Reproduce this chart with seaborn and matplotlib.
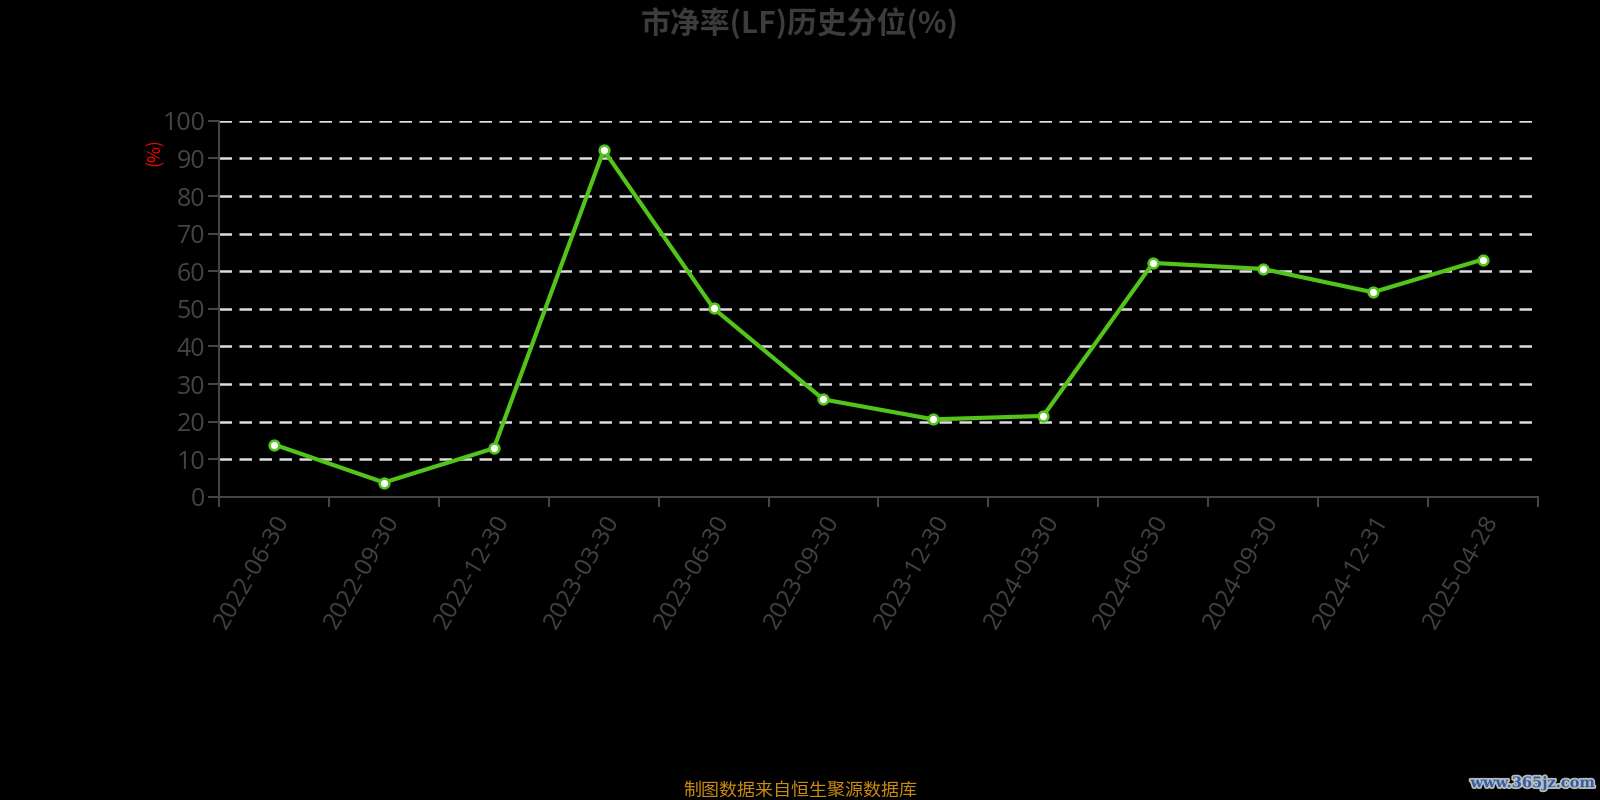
import matplotlib
matplotlib.use('Agg')
import matplotlib.pyplot as plt
import matplotlib.patheffects as pe
import seaborn as sns
import pandas as pd
import numpy as np

# data
dates = ['2022-06-30', '2022-09-30', '2022-12-30', '2023-03-30', '2023-06-30', '2023-09-30',
         '2023-12-30', '2024-03-30', '2024-06-30', '2024-09-30', '2024-12-31', '2025-04-28']
pct = [13.9, 3.8, 12.9, 92.2, 50.1, 25.9, 20.6, 21.5, 62.2, 60.6, 54.4, 63.1]
yticks = list(range(0, 101, 10))

df = pd.DataFrame({'date': dates, 'pct': pct})

sns.set_style('dark')
plt.rcParams['font.family'] = ['Noto Sans CJK SC', 'DejaVu Sans']

fig = plt.figure(figsize=(16, 8), dpi=100, facecolor='black')
ax = fig.add_axes([0.137, 0.379, 0.824, 0.470])
ax.set_facecolor('black')

axis_gray = '#444444'

# grid
for v in yticks[1:]:
    ax.axhline(v, color='#dddddd', lw=1.8, dashes=(5, 3), zorder=1)

x = np.arange(len(dates))
sns.lineplot(x=x, y=df['pct'], ax=ax, color='#52c41a', lw=3, zorder=3,
             marker='o', markersize=7, markerfacecolor='white',
             markeredgecolor='#52c41a', markeredgewidth=1.8)

ax.set_xlim(-0.5, len(dates) - 0.5)
ax.set_ylim(0, 100)
ax.set_yticks(yticks)
ax.set_yticklabels([str(v) for v in yticks], fontsize=18, color=axis_gray, family='Open Sans')
ax.tick_params(axis='y', length=8, width=1.5, color=axis_gray, pad=2, left=True)

ax.set_xticks(x)
ax.set_xticklabels(dates, rotation=60, ha='right', rotation_mode='anchor',
                   fontsize=17.5, color=axis_gray, family='Open Sans')
ax.set_xticks(np.arange(-0.5, len(dates)), minor=True)
ax.tick_params(axis='x', which='major', length=0, pad=10)
ax.tick_params(axis='x', which='minor', length=7, width=1.5, color=axis_gray, bottom=True)

for s in ['top', 'right']:
    ax.spines[s].set_visible(False)
for s in ['left', 'bottom']:
    ax.spines[s].set_visible(True)
    ax.spines[s].set_color(axis_gray)
    ax.spines[s].set_linewidth(1.5)
ax.set_xlabel('')
ax.set_ylabel('')
ax.grid(False)

fig.text(0.0965, 0.81, '(%)', color='red', fontsize=12.5, rotation=90, ha='center', va='center')

fig.text(0.5, 0.971, '市净率(LF)历史分位(%)', color='#3c3c3c', fontsize=21.5,
         fontweight='bold', ha='center', va='center')

fig.text(0.5, 0.012, '制图数据来自恒生聚源数据库', color='#c88a12', fontsize=13,
         ha='center', va='center')

fig.text(0.958, 0.021, 'www.365jz.com', color='#2f5fa8', fontsize=10.5, fontweight='bold',
         ha='center', va='center', family='DejaVu Serif',
         path_effects=[pe.withStroke(linewidth=2.5, foreground='#bbbbbb')])

fig.savefig('out.png', dpi=100, facecolor='black')
